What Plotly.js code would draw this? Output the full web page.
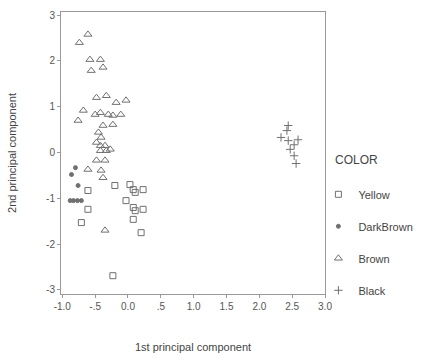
<!DOCTYPE html>
<html>
<head>
<meta charset="utf-8">
<script src="https://cdn.plot.ly/plotly-3.0.1.min.js"></script>
<style>html,body{margin:0;padding:0;background:#fff;}#chart{width:436px;height:362px;}</style>
</head>
<body>
<div id="chart"></div>
<script>
// Data
const seriesNames = ["Yellow", "DarkBrown", "Brown", "Black"];
const legendTitle = "COLOR";

const yellowX = [-0.20, 0.03, 0.08, 0.11, 0.23, -0.03, 0.08, 0.11, 0.23, 0.08, 0.20, -0.61, -0.61, -0.71, -0.23];
const yellowY = [-0.72, -0.70, -0.81, -0.87, -0.81, -1.05, -1.20, -1.27, -1.24, -1.46, -1.75, -0.83, -1.24, -1.53, -2.69];

const darkBrownX = [-0.80, -0.86, -0.76, -0.83, -0.88, -0.77, -0.71];
const darkBrownY = [-0.33, -0.48, -0.72, -1.05, -1.05, -1.05, -1.05];

const brownX = [-0.74, -0.61, -0.58, -0.42, -0.56, -0.38, -0.48, -0.33, -0.18, -0.03, -0.68, -0.50, -0.42, -0.30, -0.23, -0.11, -0.76, -0.38, -0.23, -0.45, -0.41, -0.48, -0.42, -0.35, -0.27, -0.42, -0.33, -0.48, -0.35, -0.61, -0.41, -0.38, -0.35];
const brownY = [2.40, 2.58, 2.03, 2.03, 1.79, 1.86, 1.20, 1.24, 1.09, 1.14, 0.92, 0.83, 0.87, 0.83, 0.81, 0.83, 0.70, 0.59, 0.61, 0.44, 0.33, 0.22, 0.15, 0.15, 0.07, 0.04, 0.04, -0.17, -0.17, -0.37, -0.39, -0.55, -1.70];

const blackX = [2.44, 2.42, 2.33, 2.44, 2.53, 2.59, 2.47, 2.53, 2.56];
const blackY = [0.59, 0.48, 0.33, 0.26, 0.17, 0.28, 0.07, -0.07, -0.24];

const xTickVals = [-1.0, -0.5, 0.0, 0.5, 1.0, 1.5, 2.0, 2.5, 3.0];
const xTickText = ["-1.0", "-.5", "0.0", ".5", "1.0", "1.5", "2.0", "2.5", "3.0"];
const yTickVals = [3, 2, 1, 0, -1, -2, -3];
const yTickText = ["3", "2", "1", "0", "-1", "-2", "-3"];

const markerColor = "#707070";
function mk(name, xs, ys, symbol, size, g) {
  return {
    type: "scatter", mode: "markers", name: name, x: xs, y: ys,
    legendgroup: g,
    marker: {symbol: symbol, size: size, color: markerColor, line: {color: markerColor, width: 1}},
    hoverinfo: "x+y+name"
  };
}

const traces = [
  mk(seriesNames[0], yellowX, yellowY, "square-open", 6, "a"),
  mk(seriesNames[1], darkBrownX, darkBrownY, "circle", 4, "b"),
  mk(seriesNames[2], brownX, brownY, "triangle-up-open", 7, "c"),
  mk(seriesNames[3], blackX, blackY, "cross-thin-open", 6, "d")
];

const fam = "Liberation Sans, Arial, sans-serif";

const layout = {
  width: 436, height: 362,
  margin: {l: 61, r: 111, t: 12, b: 68},
  paper_bgcolor: "#fff", plot_bgcolor: "#fff",
  font: {family: fam, size: 10, color: "#444"},
  showlegend: true,
  legend: {
    x: 0.975, xanchor: "left", y: 0.405, yanchor: "top",
    traceorder: "grouped", tracegroupgap: 13,
    font: {family: fam, size: 11, color: "#444"},
    bgcolor: "rgba(0,0,0,0)"
  },
  annotations: [{
    text: legendTitle, xref: "paper", yref: "paper", x: 1.03, y: 0.475,
    xanchor: "left", yanchor: "middle", showarrow: false,
    font: {family: fam, size: 12, color: "#444"}
  }],
  xaxis: {
    range: [-1.02, 3.0], tickvals: xTickVals, ticktext: xTickText,
    showgrid: false, zeroline: false,
    showline: true, mirror: true, linecolor: "#999", linewidth: 1,
    ticks: "outside", ticklen: 3, tickcolor: "#999",
    tickfont: {family: fam, size: 10, color: "#555"},
    title: {text: "1st principal component", font: {family: fam, size: 11, color: "#444"}, standoff: 32}
  },
  yaxis: {
    range: [-3.09, 3.07], tickvals: yTickVals, ticktext: yTickText,
    showgrid: false, zeroline: false,
    showline: true, mirror: true, linecolor: "#999", linewidth: 1,
    ticks: "outside", ticklen: 3, tickcolor: "#999",
    tickfont: {family: fam, size: 10, color: "#555"},
    title: {text: "2nd principal component", font: {family: fam, size: 11, color: "#444"}, standoff: 27}
  }
};

Plotly.newPlot("chart", traces, layout, {displayModeBar: false, staticPlot: true});
</script>
</body>
</html>
